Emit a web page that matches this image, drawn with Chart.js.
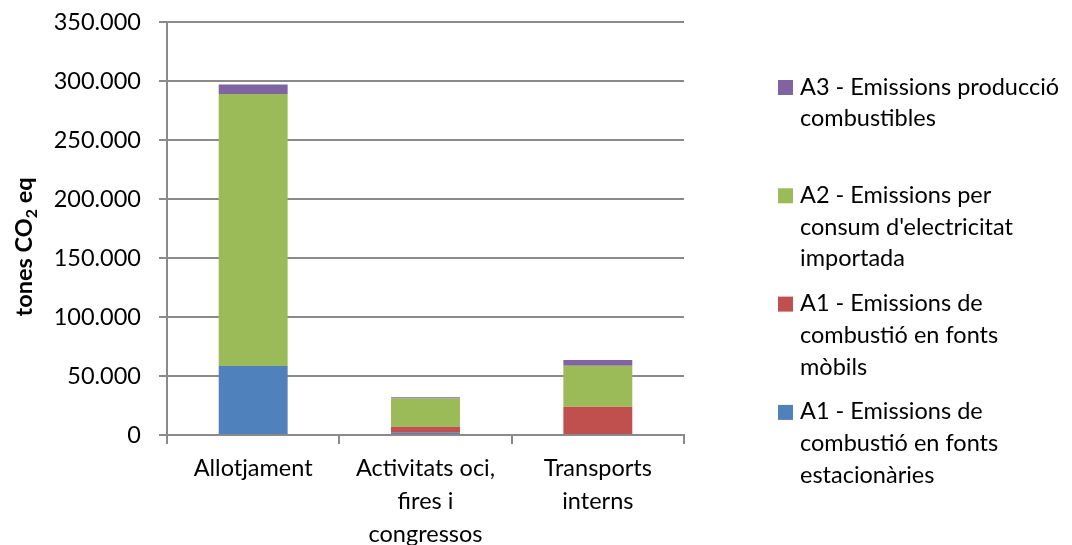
<!DOCTYPE html>
<html>
<head>
<meta charset="utf-8">
<script src="https://cdn.jsdelivr.net/npm/chart.js@4"></script>
<style>
  html, body { margin: 0; padding: 0; background: #fff; }
  #wrap { width: 1072px; height: 545px; }
</style>
</head>
<body>
<div id="wrap"><canvas id="chart" width="1072" height="545"></canvas></div>
<script>
const categories = [
  'Allotjament',
  ['Activitats oci,', 'fires i', 'congressos'],
  ['Transports', 'interns'],
]
const a1Stationary = [58500, 2000, 0]
const a1Mobile = [0, 5000, 24000]
const a2Electricity = [230500, 24000, 34700]
const a3Fuels = [8000, 1000, 4800]
const yTicks = [0, 50000, 100000, 150000, 200000, 250000, 300000, 350000]

const seriesNames = [
  ['A1 - Emissions de', 'combustió en fonts', 'estacionàries'],
  ['A1 - Emissions de', 'combustió en fonts', 'mòbils'],
  ['A2 - Emissions per', "consum d'electricitat", 'importada'],
  ['A3 - Emissions producció', 'combustibles'],
]
const colours = ['#4F81BD', '#C0504D', '#9BBB59', '#8064A2']

const FONT = 'Lato, "Open Sans", sans-serif'
const GREY = '#8a8a8a'
const SIZE = 23.5

const fmt = (v) => String(v).replace(/\B(?=(\d{3})+(?!\d))/g, '.')

// legend drawn by hand, entries can wrap over several lines
const sideLegend = {
  id: 'sideLegend',
  afterDraw(chart) {
    const ctx = chart.ctx
    ctx.save()
    ctx.font = SIZE + 'px ' + FONT
    ctx.textBaseline = 'middle'
    ctx.textAlign = 'left'
    const items = chart.data.datasets.map((d, i) => i).reverse()
    items.forEach((idx, n) => {
      const ds = chart.data.datasets[idx]
      const y0 = 87 + n * 108.3
      ctx.fillStyle = ds.backgroundColor
      ctx.fillRect(778, y0 - 7, 15, 15)
      ctx.fillStyle = '#000'
      ds.lines.forEach((line, k) => ctx.fillText(line, 800, y0 + k * 31.7))
    })
    ctx.restore()
  },
}

// y title with a real subscript
const yTitle = {
  id: 'yTitle',
  afterDraw(chart) {
    const ctx = chart.ctx
    ctx.save()
    ctx.translate(32, 247)
    ctx.rotate(-Math.PI / 2)
    ctx.fillStyle = '#000'
    ctx.textBaseline = 'alphabetic'
    const big = 'bold ' + SIZE + 'px ' + FONT
    const small = 'bold 16px ' + FONT
    ctx.font = big
    const w1 = ctx.measureText('tones CO').width
    ctx.font = small
    const w2 = ctx.measureText('2').width
    ctx.font = big
    const w3 = ctx.measureText(' eq').width
    let x = -(w1 + w2 + w3) / 2
    ctx.fillText('tones CO', x, 0)
    x += w1
    ctx.font = small
    ctx.fillText('2', x, 5)
    x += w2
    ctx.font = big
    ctx.fillText(' eq', x, 0)
    ctx.restore()
  },
}

const datasets = [a1Stationary, a1Mobile, a2Electricity, a3Fuels].map((values, i) => ({
  label: seriesNames[i].join(' '),
  lines: seriesNames[i],
  data: values,
  backgroundColor: colours[i],
  barPercentage: 0.4,
  categoryPercentage: 1,
}))

new Chart(document.getElementById('chart'), {
  type: 'bar',
  data: { labels: categories, datasets },
  options: {
    responsive: false,
    animation: false,
    layout: { padding: { left: 0, top: 22, right: 388, bottom: 0 } },
    plugins: {
      legend: { display: false },
      tooltip: { enabled: false },
    },
    scales: {
      x: {
        stacked: true,
        border: { color: GREY, width: 2 },
        grid: {
          offset: true,
          drawOnChartArea: false,
          drawTicks: true,
          tickLength: 9,
          color: GREY,
          lineWidth: 2,
        },
        ticks: {
          color: '#000',
          padding: 8,
          maxRotation: 0,
          autoSkip: false,
          font: { family: FONT, size: SIZE, lineHeight: 1.4 },
        },
        afterFit(scale) {
          scale.height = 110
          scale.paddingLeft = 0
          scale.paddingRight = 0
        },
      },
      y: {
        stacked: true,
        min: 0,
        max: 350000,
        border: { color: GREY, width: 2 },
        grid: {
          color: GREY,
          lineWidth: 2,
          tickLength: 8,
        },
        afterBuildTicks(scale) { scale.ticks = yTicks.map((v) => ({ value: v })) },
        ticks: {
          color: '#000',
          padding: 18,
          font: { family: FONT, size: SIZE },
          callback: (v) => fmt(v),
        },
        afterFit(scale) {
          scale.width = 167
          scale.paddingTop = 0
          scale.paddingBottom = 0
        },
      },
    },
  },
  plugins: [sideLegend, yTitle],
})
</script>
</body>
</html>
